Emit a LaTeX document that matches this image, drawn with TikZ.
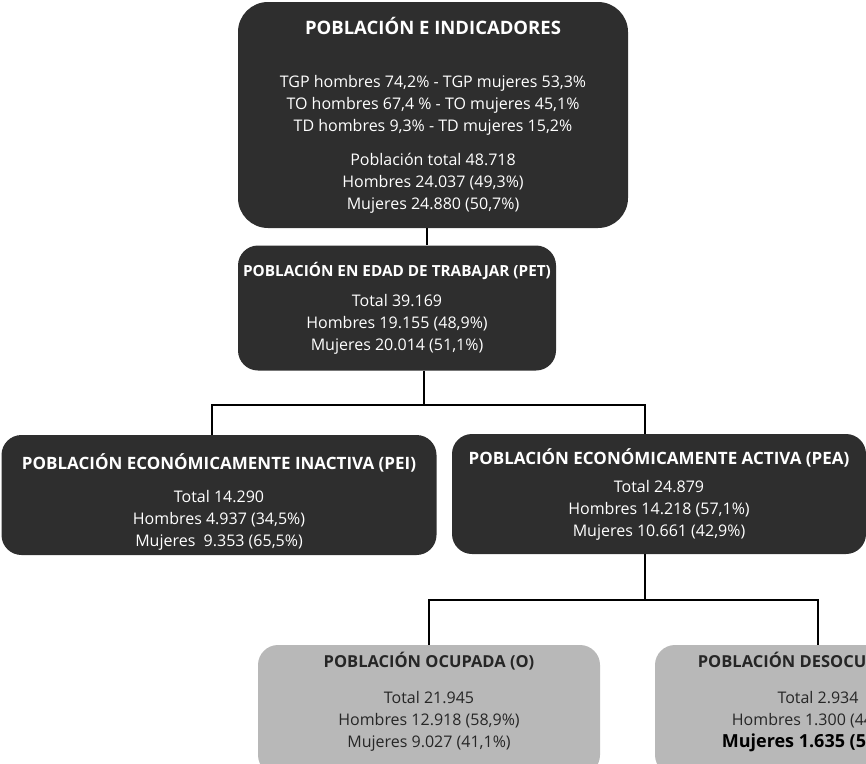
\documentclass[tikz,border=0pt]{standalone}
\usepackage{fontspec}
\setmainfont{Open Sans}
\usetikzlibrary{positioning}
\definecolor{cajaosc}{HTML}{2E2E2E}
\definecolor{cajacla}{HTML}{B8B8B8}

\begin{document}
\begin{tikzpicture}[x=1pt,y=-1pt,
        caja/.style={rounded corners=20pt,align=center,inner sep=0pt,
                     font=\fontsize{16}{22}\selectfont},
        oscura/.style={caja,fill=cajaosc,text=white},
        clara/.style={caja,fill=cajacla,text=black!85},
        linea/.style={draw=black,line width=1.1pt}]
    \useasboundingbox (0,0) rectangle (866,763);
    \clip (0,0) rectangle (866,763);

    \node[oscura,rounded corners=30pt,minimum width=390pt,minimum height=226pt] (pob) at (433,115)
        {{\fontsize{18.5}{22}\selectfont\bfseries POBLACIÓN E INDICADORES}\\[31pt]
         TGP hombres 74,2\% - TGP mujeres 53,3\%\\
         TO hombres 67,4 \% - TO mujeres 45,1\%\\
         TD hombres 9,3\% - TD mujeres 15,2\%\\[12pt]
         Población total 48.718\\
         Hombres 24.037 (49,3\%)\\
         Mujeres 24.880 (50,7\%)};
    \node[oscura,minimum width=318pt,minimum height=125pt] (pet) at (397,308)
        {{\fontsize{15.3}{22}\selectfont\bfseries POBLACIÓN EN EDAD DE TRABAJAR (PET)}\\[8pt]
         Total 39.169\\
         Hombres 19.155 (48,9\%)\\
         Mujeres 20.014 (51,1\%)};
    \node[oscura,minimum width=435pt,minimum height=120pt] (pei) at (219,495)
        {\strut\\[-10pt]
         {\fontsize{17}{22}\selectfont\bfseries POBLACIÓN ECONÓMICAMENTE INACTIVA (PEI)}\\[11pt]
         Total 14.290\\
         Hombres 4.937 (34,5\%)\\
         Mujeres \ 9.353 (65,5\%)};
    \node[oscura,minimum width=414pt,minimum height=120pt] (pea) at (659,494)
        {{\fontsize{17}{22}\selectfont\bfseries POBLACIÓN ECONÓMICAMENTE ACTIVA (PEA)}\\[6pt]
         Total 24.879\\
         Hombres 14.218 (57,1\%)\\
         Mujeres 10.661 (42,9\%)};
    \node[clara,minimum width=342pt,minimum height=130pt] (ocu) at (429,710)
        {{\fontsize{16.5}{22}\selectfont\bfseries POBLACIÓN OCUPADA (O)}\\[14pt]
         Total 21.945\\
         Hombres 12.918 (58,9\%)\\
         Mujeres 9.027 (41,1\%)\\[-8pt]\strut};
    \node[clara,minimum width=326pt,minimum height=130pt] (des) at (818,710)
        {{\fontsize{16.5}{22}\selectfont\bfseries POBLACIÓN DESOCUPADA (D)}\\[14pt]
         Total 2.934\\
         Hombres 1.300 (44,3\%)\\
         {\fontsize{18}{22}\selectfont\bfseries\color{black} Mujeres 1.635 (55,7\%)}\\[-8pt]\strut};

    % conectores
    \coordinate (r1) at (424,405);
    \coordinate (r2) at (645,600);
    \draw[linea] ([xshift=-6pt]pob.south) -- ([xshift=-6pt]pob.south |- pet.north);
    \draw[linea] (r1 |- pet.south) -- (r1);
    \draw[linea] ([xshift=-7pt]pei.north) |- (r1) -| ([xshift=-14pt]pea.north);
    \draw[linea] (r2 |- pea.south) -- (r2);
    \draw[linea] (ocu.north) |- (r2) -| (des.north);
\end{tikzpicture}
\end{document}
